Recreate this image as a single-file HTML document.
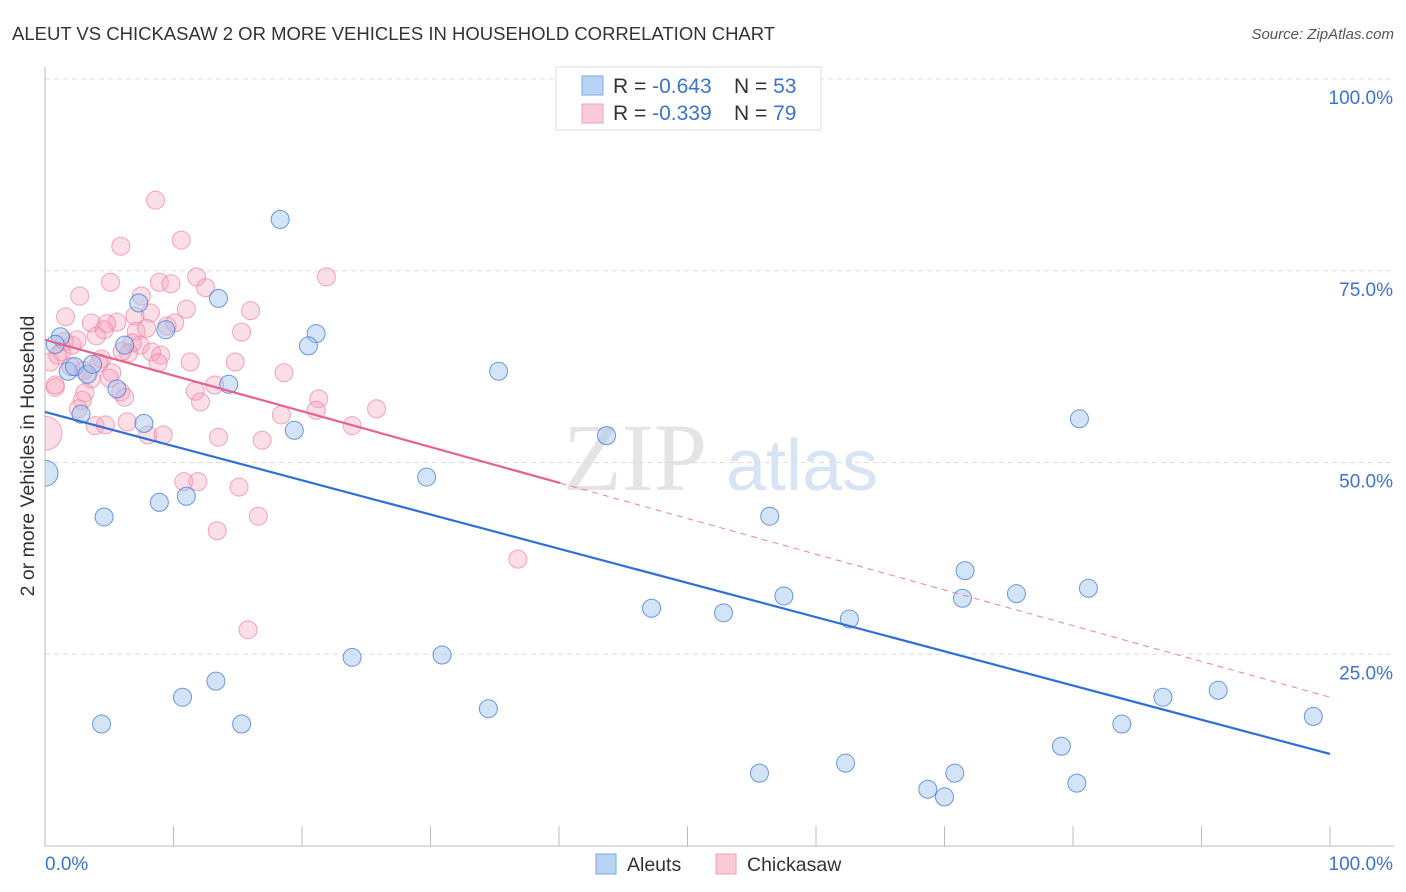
<!DOCTYPE html>
<html><head><meta charset="utf-8">
<style>
body{margin:0;background:#fff;font-family:"Liberation Sans",sans-serif;}
svg{display:block}
</style></head>
<body>
<svg id="chart" width="1406" height="892" xmlns="http://www.w3.org/2000/svg">
<defs><clipPath id="plotclip"><rect x="45" y="60" width="1361" height="786"/></clipPath></defs>
<text x="12" y="40" font-size="18.5" fill="#333">ALEUT VS CHICKASAW 2 OR MORE VEHICLES IN HOUSEHOLD CORRELATION CHART</text>
<text x="1394" y="39" font-size="15" fill="#555" text-anchor="end" font-style="italic">Source: ZipAtlas.com</text>
<g>
<text x="635" y="490" font-size="96" fill="#e4e4e4" text-anchor="middle" font-family="Liberation Serif,serif">ZIP</text>
<text x="802" y="490" font-size="72" fill="#d6e4f4" text-anchor="middle">atlas</text>
</g>
<g id="grid"></g>
<g id="axes"></g>
<g id="pts-pink" clip-path="url(#plotclip)"></g>
<g id="pts-blue" clip-path="url(#plotclip)"></g>
<g id="lines"></g>
<text transform="translate(34,456) rotate(-90)" font-size="19.5" fill="#333" text-anchor="middle">2 or more Vehicles in Household</text>
<g>
<rect x="556" y="67" width="265" height="63" fill="#fff" stroke="#ddd"/>
<rect x="582" y="76" width="21" height="19" fill="#b8d3f5" stroke="#7aaae6"/>
<rect x="582" y="104" width="21" height="19" fill="#fbcad7" stroke="#f0a0b8"/>
<text x="613" y="93" font-size="21" fill="#333">R = <tspan fill="#3a74d0">-0.643</tspan></text>
<text x="734" y="93" font-size="21" fill="#333">N = <tspan fill="#3a74d0">53</tspan></text>
<text x="613" y="120" font-size="21" fill="#333">R = <tspan fill="#3a74d0">-0.339</tspan></text>
<text x="734" y="120" font-size="21" fill="#333">N = <tspan fill="#3a74d0">79</tspan></text>
</g>
<g>
<rect x="596" y="854" width="20" height="20" fill="#b8d3f5" stroke="#7aaae6"/>
<text x="627" y="871" font-size="19.5" fill="#333">Aleuts</text>
<rect x="716" y="854" width="20" height="20" fill="#fbcad7" stroke="#f0a0b8"/>
<text x="747" y="871" font-size="19.5" fill="#333">Chickasaw</text>
</g>
<script>
const yTicks=[25,50,75,100];
const yTickLabels=["25.0%","50.0%","75.0%","100.0%"];
const xEndLabels=["0.0%","100.0%"];
const blueX=[18.3,1.2,0.8,1.8,2.3,3.3,3.7,2.8,5.6,6.2,7.3,9.4,7.7,13.5,14.3,21.1,20.5,19.4,35.3,43.7,80.5,29.7,0,4.6,8.9,11.0,56.4,71.6,71.4,75.6,81.2,47.2,52.8,57.5,62.6,23.9,30.9,13.3,10.7,4.4,15.3,34.5,87.0,91.3,98.7,83.8,79.1,55.6,62.3,68.7,70.0,70.8,80.3];
const blueY=[81.7,66.4,65.4,61.9,62.5,61.5,62.8,56.3,59.6,65.3,70.8,67.3,55.1,71.4,60.2,66.8,65.2,54.2,61.9,53.5,55.7,48.1,48.6,42.9,44.8,45.6,43.0,35.9,32.3,32.9,33.6,31.0,30.4,32.6,29.6,24.6,24.9,21.5,19.4,15.9,15.9,17.9,19.4,20.3,16.9,15.9,13.0,9.5,10.8,7.4,6.4,9.5,8.2];
const pinkX=[8.6,5.9,10.6,5.1,2.7,1.6,3.6,8.9,9.8,11.8,12.5,21.9,7.5,8.2,7.0,11.0,16.0,15.3,5.6,4.8,4.6,4.0,7.1,7.9,9.5,10.1,7.4,6.8,8.3,9.0,6.5,2.1,1.3,4.4,11.3,14.8,0.4,3.6,5.2,0.8,3.1,2.9,5.9,6.2,2.6,11.7,12.1,13.2,18.6,18.4,21.3,21.1,25.8,23.9,3.9,4.7,6.4,8.0,9.2,13.5,16.9,0,10.8,11.9,15.1,16.6,13.4,15.8,36.8,0.8,1.0,2.0,3.0,4.2,5.0,6.0,8.8,1.5,2.5];
const pinkY=[84.2,78.2,79.0,73.5,71.7,69.0,68.2,73.5,73.3,74.2,72.8,74.2,71.7,69.5,69.1,70.0,69.8,67.0,68.3,68.1,67.3,66.5,67.1,67.5,67.8,68.2,65.3,65.6,64.4,64.0,64.3,65.3,64.4,63.5,63.1,63.1,63.1,60.9,61.7,59.8,59.1,58.1,59.2,58.5,57.0,59.3,57.9,60.1,61.7,56.2,58.3,56.8,57.0,54.8,54.8,54.9,55.3,53.6,53.6,53.3,52.9,53.8,47.5,47.5,46.8,43.0,41.1,28.2,37.4,60.1,64.0,62.5,62.0,63.0,61.0,64.5,63.0,65.8,66.0];
const blueTrend=[56.6,12.0];
const pinkTrend=[66.0,19.4];
const pinkSolidEnd=40.1;
const X0=45,X1=1330,Y0=846,Y100=79;
const sx=v=>X0+(X1-X0)*v/100;
const sy=v=>Y0-(Y0-Y100)*v/100;
const NS="http://www.w3.org/2000/svg";
function mk(t,a,p){const e=document.createElementNS(NS,t);for(const k in a)e.setAttribute(k,a[k]);p.appendChild(e);return e;}
const grid=document.getElementById('grid'),axes=document.getElementById('axes');
yTicks.forEach((t,i)=>{
 const l=mk('line',{x1:X0,x2:1394,y1:sy(t),y2:sy(t),stroke:'#ddd','stroke-dasharray':'5,4'},grid);
 
 
 const tx=mk('text',{x:1393,y:sy(t)+25,'font-size':19,fill:'#3a74d0','text-anchor':'end'},axes);
 tx.textContent=yTickLabels[i];
 
 
});
const ya=mk('line',{x1:X0,x2:X0,y1:67,y2:Y0,stroke:'#bbb'},axes);


const xa=mk('line',{x1:X0,x2:1394,y1:Y0,y2:Y0,stroke:'#bbb'},axes);


for(let i=0;i<=10;i++){const x=sx(i*10);const tk=mk('line',{x1:x,x2:x,y1:Y0,y2:826,stroke:'#bbb'},axes);
 
 }
const xl0=mk('text',{x:45,y:870,'font-size':19,fill:'#3a74d0'},axes);xl0.textContent=xEndLabels[0];


const xl1=mk('text',{x:1393,y:870,'font-size':19,fill:'#3a74d0','text-anchor':'end'},axes);xl1.textContent=xEndLabels[1];


const gp=document.getElementById('pts-pink'),gb=document.getElementById('pts-blue');
pinkX.forEach((x,i)=>{const big=(x===0);const c=mk('circle',{cx:sx(x),cy:sy(pinkY[i]),r:big?17:9,fill:'rgba(246,160,185,0.35)',stroke:'rgba(235,130,160,0.7)','stroke-width':1},gp);
 
 });
blueX.forEach((x,i)=>{const big=(x===0);const c=mk('circle',{cx:sx(x),cy:sy(blueY[i]),r:big?13:9,fill:'rgba(160,195,240,0.45)',stroke:'rgba(60,120,210,0.75)','stroke-width':1},gb);
 
 });
const lg=document.getElementById('lines');
const pAt=v=>pinkTrend[0]+(pinkTrend[1]-pinkTrend[0])*v/100;
const bl=mk('line',{x1:sx(0),y1:sy(blueTrend[0]),x2:sx(100),y2:sy(blueTrend[1]),stroke:'#2f6fd6','stroke-width':2.2},lg);


const pl=mk('line',{x1:sx(0),y1:sy(pAt(0)),x2:sx(pinkSolidEnd),y2:sy(pAt(pinkSolidEnd)),stroke:'#e8618c','stroke-width':2.2},lg);


const pd=mk('line',{x1:sx(pinkSolidEnd),y1:sy(pAt(pinkSolidEnd)),x2:sx(100),y2:sy(pAt(100)),stroke:'#e8618c','stroke-width':1,'stroke-dasharray':'6,5',opacity:0.8},lg);


</script>
</svg>
</body></html>
